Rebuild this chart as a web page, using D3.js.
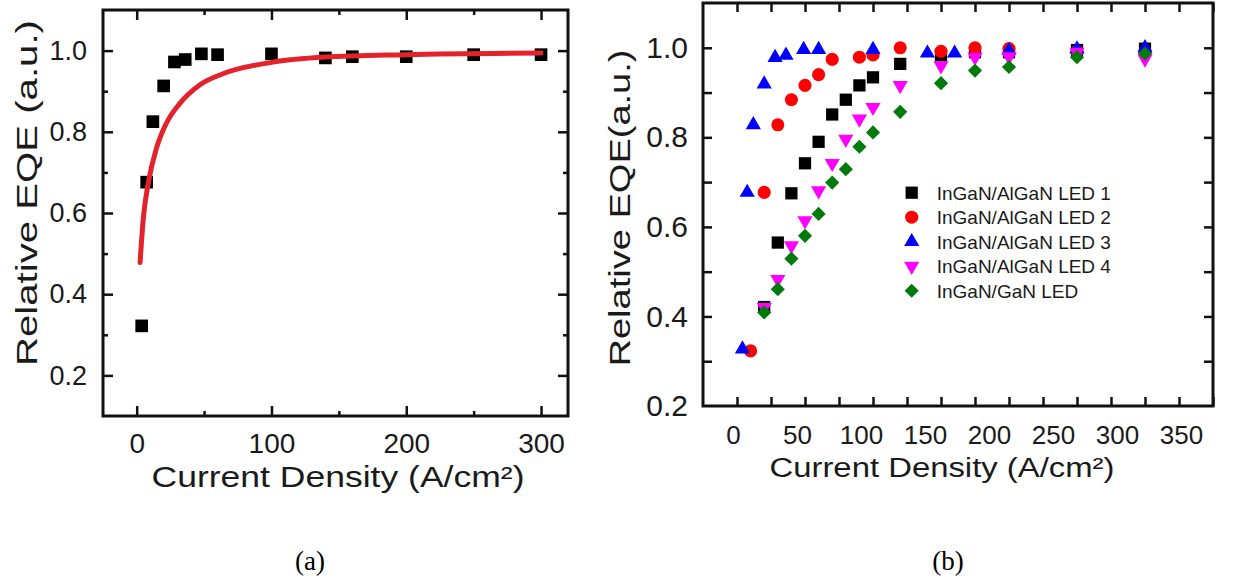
<!DOCTYPE html>
<html>
<head>
<meta charset="utf-8">
<script src="https://cdn.jsdelivr.net/npm/d3@7"></script>
<style>
  body { margin: 0; background: #fff; }
  svg { display: block; font-family: "Liberation Sans", Arial, sans-serif; }
  .lbl text { fill: #1a1a1a; }
</style>
</head>
<body>
<script>
// panel (a): measured points + fitted curve
const xsA = [3.7, 7.4, 12, 20, 28, 36, 48, 60, 100, 140, 160, 200, 250, 300];
const eqeA = [0.322, 0.676, 0.825, 0.913, 0.972, 0.978, 0.992, 0.99, 0.992, 0.982, 0.985, 0.985, 0.99, 0.99];
const fitX = [2.5, 5, 8.7, 15, 22, 32, 47, 64, 100, 140, 200, 300];
const fitY = [0.478, 0.59, 0.676, 0.763, 0.821, 0.87, 0.916, 0.943, 0.971, 0.984, 0.99, 0.994];

// panel (b): five LEDs
const led1X = [20, 30, 40, 50, 60, 70, 80, 90, 100, 120, 150, 175, 200, 250, 300];
const led1 = [0.421, 0.565, 0.675, 0.742, 0.79, 0.851, 0.884, 0.916, 0.934, 0.964, 0.983, 0.99, 0.99, 0.995, 0.998];
const led2X = [10, 20, 30, 40, 50, 60, 70, 90, 100, 120, 150, 175, 200, 250, 300];
const led2 = [0.323, 0.677, 0.828, 0.884, 0.916, 0.94, 0.974, 0.979, 0.984, 1.0, 0.992, 1.0, 0.998, 0.992, 0.99];
const led3X = [4, 7.5, 12, 20, 28, 36, 49, 60, 100, 140, 160, 200, 250, 300];
const led3 = [0.327, 0.677, 0.828, 0.919, 0.978, 0.983, 0.996, 0.996, 0.996, 0.988, 0.988, 0.994, 0.997, 1.0];
const led4X = [20, 30, 40, 50, 60, 70, 80, 90, 100, 120, 150, 175, 200, 250, 300];
const led4 = [0.42, 0.483, 0.558, 0.614, 0.681, 0.742, 0.796, 0.841, 0.867, 0.916, 0.96, 0.979, 0.98, 0.99, 0.975];
const ganX = [20, 30, 40, 50, 60, 70, 80, 90, 100, 120, 150, 175, 200, 250, 300];
const gan = [0.409, 0.461, 0.529, 0.58, 0.629, 0.699, 0.729, 0.779, 0.811, 0.857, 0.921, 0.949, 0.957, 0.979, 0.987];

const seriesNames = ["InGaN/AlGaN LED 1", "InGaN/AlGaN LED 2", "InGaN/AlGaN LED 3", "InGaN/AlGaN LED 4", "InGaN/GaN LED"];
const yTicks = [0.2, 0.4, 0.6, 0.8, 1.0];
const xTicksA = [0, 100, 200, 300];
const xTicksB = [0, 50, 100, 150, 200, 250, 300, 350];

const width = 1253, height = 582;

const svg = d3.select("body").append("svg")
  .attr("width", width)
  .attr("height", height);

const xA = d3.scaleLinear([-25, 320], [103, 568]);
const yA = d3.scaleLinear([0.1, 1.1], [416, 10]);
const xB = d3.scaleLinear([-25, 350], [703, 1213]);
const yB = d3.scaleLinear([0.2, 1.1], [406, 3]);
// tick labels in (b) sit a bit tighter than the ticks themselves
const xBLabel = d3.scaleLinear([0, 350], [733, 1181]);

// inward ticks on all four sides
function ticks(x, y, xv, yv, size) {
  const [x0, x1] = x.range(), [y0, y1] = y.range();
  const g = svg.append("g");
  g.append("g").attr("transform", `translate(0,${y0})`)
    .call(d3.axisBottom(x).tickValues(xv).tickSize(-size).tickFormat(""));
  g.append("g").attr("transform", `translate(0,${y1})`)
    .call(d3.axisTop(x).tickValues(xv).tickSize(-size).tickFormat(""));
  g.append("g").attr("transform", `translate(${x0},0)`)
    .call(d3.axisLeft(y).tickValues(yv).tickSize(-size).tickFormat(""));
  g.append("g").attr("transform", `translate(${x1},0)`)
    .call(d3.axisRight(y).tickValues(yv).tickSize(-size).tickFormat(""));
  g.selectAll(".domain").remove();
  g.selectAll("line").attr("stroke", "#111").attr("stroke-width", 2.5);
}

function frame(x, y) {
  const [x0, x1] = x.range(), [y0, y1] = y.range();
  svg.append("rect")
    .attr("x", x0).attr("y", y1)
    .attr("width", x1 - x0).attr("height", y0 - y1)
    .attr("fill", "none").attr("stroke", "#111").attr("stroke-width", 3);
}

function labels(axis, transform, fs) {
  svg.append("g").attr("class", "lbl")
    .attr("transform", transform)
    .call(axis)
    .call(g => g.select(".domain").remove())
    .call(g => g.selectAll("text").attr("font-size", fs).attr("font-family", "Liberation Sans"));
}

function title(text, x, y, len, fs, rotate) {
  svg.append("text")
    .attr("transform", `translate(${x},${y})` + (rotate ? " rotate(-90)" : ""))
    .attr("text-anchor", "middle")
    .attr("font-size", fs)
    .attr("fill", "#1a1a1a")
    .attr("textLength", len)
    .attr("lengthAdjust", "spacingAndGlyphs")
    .text(text);
}

// ---- panel (a)
ticks(xA, yA, xTicksA, yTicks, 10);
ticks(xA, yA, [50, 150, 250], [0.3, 0.5, 0.7, 0.9], 5);
frame(xA, yA);

svg.append("g").selectAll("path")
  .data(xsA)
  .join("path")
    .attr("transform", (d, i) => `translate(${xA(d)},${yA(eqeA[i])})`)
    .attr("d", d3.symbol(d3.symbolSquare, 160))
    .attr("fill", "#000");

svg.append("path")
  .attr("d", d3.line()
    .x(d => xA(d))
    .y((d, i) => yA(fitY[i]))
    .curve(d3.curveMonotoneX)(fitX))
  .attr("fill", "none")
  .attr("stroke", "#e3222b")
  .attr("stroke-width", 5)
  .attr("stroke-linecap", "round");

labels(d3.axisLeft(yA).tickValues(yTicks).tickSize(0).tickPadding(16).tickFormat(d3.format(".1f")),
  `translate(${xA.range()[0]},0)`, 27);
labels(d3.axisBottom(xA).tickValues(xTicksA).tickSize(0).tickPadding(17),
  `translate(0,${yA.range()[0]})`, 28);
title("Relative EQE (a.u.)", 37, 193, 346, 30, true);
title("Current Density (A/cm²)", 338, 487, 373, 29, false);

// ---- panel (b)
ticks(xB, yB, d3.range(0, 351, 25), d3.range(0.3, 1.05, 0.1), 9);
frame(xB, yB);

const series = [
  { xs: led1X, ys: led1, color: "#000000", d: d3.symbol(d3.symbolSquare, 150)(), rot: 0 },
  { xs: led2X, ys: led2, color: "#ff0000", d: d3.symbol(d3.symbolCircle, 135)(), rot: 0 },
  { xs: led3X, ys: led3, color: "#0000ff", d: d3.symbol(d3.symbolTriangle, 100)(), rot: 0 },
  { xs: led4X, ys: led4, color: "#ff00ff", d: d3.symbol(d3.symbolTriangle, 100)(), rot: 180 },
  { xs: ganX, ys: gan, color: "#007a0a", d: d3.symbol(d3.symbolSquare, 100)(), rot: 45 }
];

series.forEach(s => {
  svg.append("g").selectAll("path")
    .data(s.xs)
    .join("path")
      .attr("transform", (d, i) => `translate(${xB(d)},${yB(s.ys[i])}) rotate(${s.rot})`)
      .attr("d", s.d)
      .attr("fill", s.color);
});

labels(d3.axisLeft(yB).tickValues(yTicks).tickSize(0).tickPadding(15).tickFormat(d3.format(".1f")),
  `translate(${xB.range()[0]},0)`, 30);
labels(d3.axisBottom(xBLabel).tickValues(xTicksB).tickSize(0).tickPadding(20),
  `translate(0,${yB.range()[0]})`, 26);
title("Relative EQE(a.u.)", 630, 208, 317, 30, true);
title("Current Density (A/cm²)", 942, 477, 345, 27, false);

// legend
const legY = d3.scalePoint(seriesNames, [192.7, 290.7]);
const leg = svg.append("g").selectAll("g")
  .data(series)
  .join("g")
    .attr("transform", (d, i) => `translate(911.7,${legY(seriesNames[i])})`);
leg.append("path")
  .attr("transform", d => `rotate(${d.rot})`)
  .attr("d", d => d.d)
  .attr("fill", d => d.color);
leg.append("text")
  .attr("x", 25)
  .attr("dy", "0.36em")
  .attr("font-size", 19)
  .attr("fill", "#1a1a1a")
  .text((d, i) => seriesNames[i]);

// captions
svg.append("g").selectAll("text")
  .data(["(a)", "(b)"])
  .join("text")
    .attr("x", (d, i) => [310, 948][i])
    .attr("y", 570)
    .attr("text-anchor", "middle")
    .attr("font-family", "Liberation Serif, Times New Roman, serif")
    .attr("font-size", 27)
    .text(d => d);
</script>
</body>
</html>
